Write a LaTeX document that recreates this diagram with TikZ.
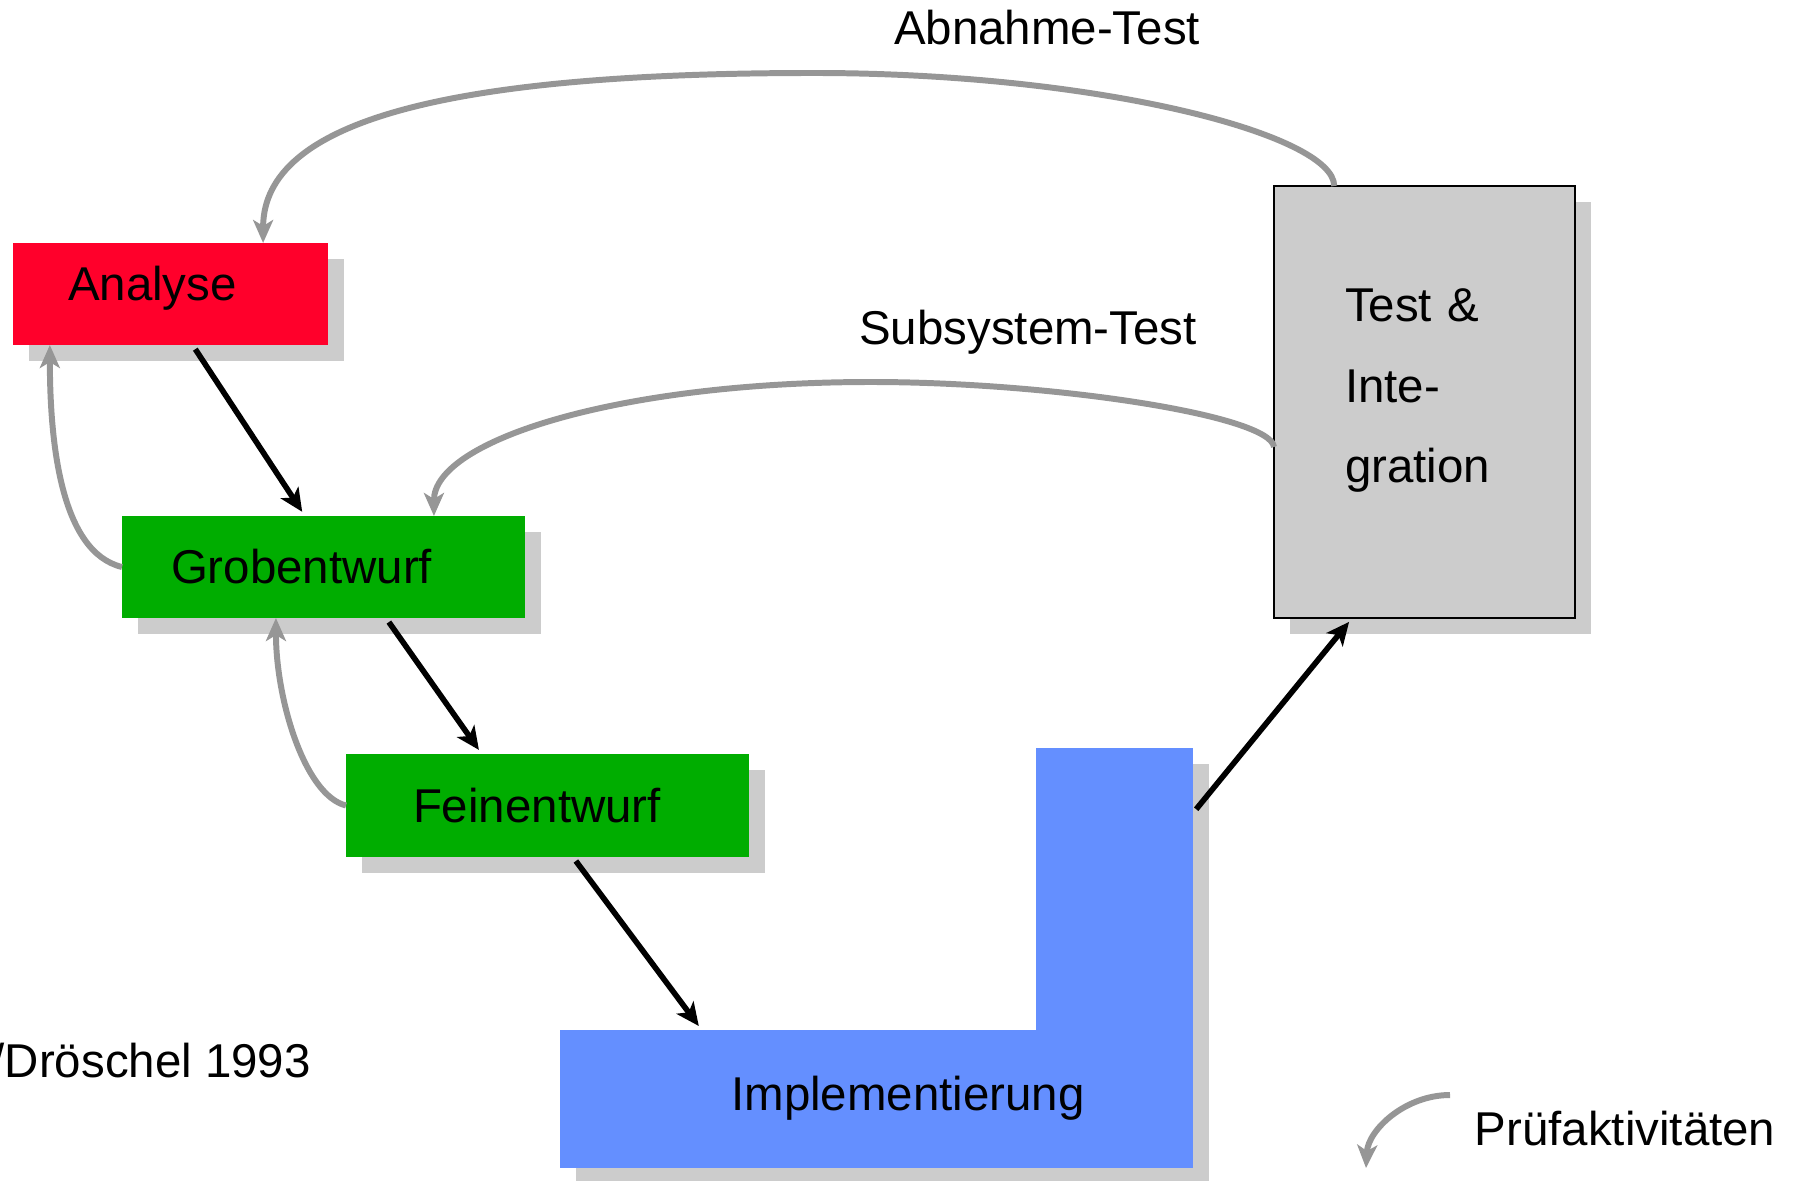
\documentclass[tikz,border=0pt]{standalone}
\usepackage{fontspec}
\setmainfont{Liberation Sans}
\usetikzlibrary{calc,arrows.meta,backgrounds}

\definecolor{analysered}{RGB}{255,0,43}
\definecolor{entwurfgreen}{RGB}{0,173,0}
\definecolor{implblue}{RGB}{100,143,255}
\definecolor{shadowgray}{RGB}{204,204,204}
\definecolor{checkgray}{RGB}{150,150,150}

\begin{document}
\begin{tikzpicture}[
  every node/.style={font=\fontsize{13.5}{16}\selectfont},
  phase/.style={minimum height=1.02cm, outer sep=0pt, inner ysep=0pt, align=left},
  implpart/.style={fill=implblue, outer sep=0pt, inner sep=0pt},
  flow/.style={line width=1.6pt, -{Stealth[length=2.3mm,width=2.1mm,inset=0.6mm]}, shorten <=0.05cm, shorten >=0.05cm},
  check/.style={line width=1.7pt, checkgray, -{Stealth[length=2.3mm,width=2.0mm,inset=0.6mm]}}
]
\useasboundingbox (0,0) rectangle (18.05,11.80);

\node[phase, fill=analysered, inner xsep=0.55cm, text width=2.05cm, text depth=0.22cm] (analyse) at (1.705,8.86) {Analyse};
\node[phase, fill=entwurfgreen, inner xsep=0.49cm, text width=3.05cm] (grob) at (3.235,6.13) {Grobentwurf};
\node[phase, fill=entwurfgreen, inner xsep=0.67cm, text width=2.69cm, minimum height=1.03cm] (fein) at (5.475,3.745) {Feinentwurf};

\node[implpart, minimum width=6.33cm, minimum height=1.38cm] (implrow) at (8.765,0.81) {};
\node[implpart, minimum width=1.57cm, minimum height=4.20cm] (implcol) at (11.145,2.22) {};
\node[anchor=base] (impltext) at (9.08,0.70) {Implementierung};

\node[draw, line width=0.6pt, fill=shadowgray, minimum width=3.01cm, minimum height=4.32cm,
  inner xsep=0.71cm, text width=1.59cm, align=left, text height=0.34cm, text depth=1.94cm,
  outer sep=0pt, font=\fontsize{13.5}{22.9}\selectfont] (test) at (14.245,7.78) {Test \&\\Inte-\\gration};

\begin{scope}[on background layer]
\foreach \n in {analyse,grob,fein,implrow,implcol,test} {
\fill[shadowgray] ([shift={(0.16,-0.16)}]\n.south west) rectangle ([shift={(0.16,-0.16)}]\n.north east);
}
\end{scope}

\foreach \a/\fa/\b/\fb in {analyse/0.57/grob/0.454, grob/0.655/fein/0.337, fein/0.563/implrow/0.224} {
\draw[flow] ($(\a.south west)!\fa!(\a.south east)$) -- ($(\b.north west)!\fb!(\b.north east)$);
}
\draw[flow] ($(implcol.north east)!0.155!(implcol.south east)$) -- ($(test.south west)!0.26!(test.south east)$);

\draw[check] ($(test.north west)!0.2!(test.north east)$) .. controls +(0,0.51) and +(2.86,0) .. (8.14,11.07)
  .. controls +(-3.64,0) and +(0,1.23) .. ($(analyse.north west)!0.794!(analyse.north east)$);
\draw[check] ($(test.north west)!0.604!(test.south west)$) .. controls +(-0.04,0.32) and +(1.79,0) .. (8.71,7.98)
  .. controls +(-2.51,0) and +(0,0.76) .. ($(grob.north west)!0.774!(grob.north east)$);
\draw[check] (grob.west) .. controls +(-0.62,0.15) and +(0,-0.95) .. ($(analyse.south west)!0.117!(analyse.south east)$);
\draw[check] (fein.west) .. controls +(-0.41,0.10) and +(0,-0.82) .. ($(grob.south west)!0.382!(grob.south east)$);

\node[anchor=base] (abnahme) at (10.47,11.35) {Abnahme-Test};
\node[anchor=base] (subsystem) at (10.28,8.35) {Subsystem-Test};
\node[anchor=base west, inner sep=0pt] (quelle) at (-0.09,1.03) {/Dröschel 1993};

\coordinate (legstart) at (14.50,0.85);
\coordinate (legtip) at (13.66,0.12);
\draw[check] (legstart) .. controls +(-0.45,0) and +(0.02,0.38) .. (legtip);
\node[anchor=base west, inner sep=0pt] (legende) at (14.74,0.35) {Prüfaktivitäten};
\end{tikzpicture}
\end{document}
